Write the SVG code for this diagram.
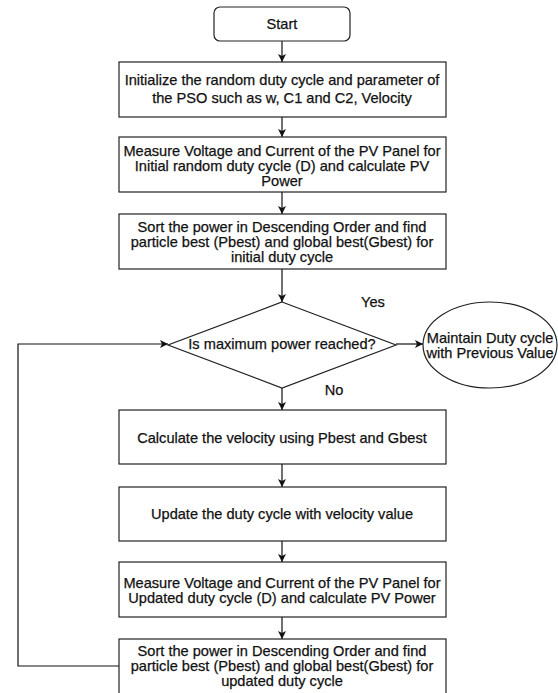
<svg xmlns="http://www.w3.org/2000/svg" width="558" height="693" viewBox="0 0 558 693">
<defs>
<style>
.box{fill:#fff;stroke:#222;stroke-width:1.2}
.t{font-family:"Liberation Sans",Arial,sans-serif;font-size:14.6px;fill:#111;text-anchor:middle;dominant-baseline:central;stroke:#111;stroke-width:0.25}
.c{fill:none;stroke:#111;stroke-width:1.2}
</style>
<marker id="ah" viewBox="0 0 10 10" refX="10" refY="5" markerWidth="8" markerHeight="8" markerUnits="userSpaceOnUse" orient="auto">
<path d="M0,0 L10,5 L0,10 L2.5,5 z" fill="#111"/>
</marker>
</defs>
<rect width="558" height="693" fill="#fff"/>
<g id="connectors">
<path class="c" d="M282,41 V62" marker-end="url(#ah)"/>
<path class="c" d="M282,117 V137" marker-end="url(#ah)"/>
<path class="c" d="M282,192 V214" marker-end="url(#ah)"/>
<path class="c" d="M282,269 V302" marker-end="url(#ah)"/>
<path class="c" d="M396,344 H423" marker-end="url(#ah)"/>
<path class="c" d="M282,388 V410" marker-end="url(#ah)"/>
<path class="c" d="M282,464 V487" marker-end="url(#ah)"/>
<path class="c" d="M282,541 V562" marker-end="url(#ah)"/>
<path class="c" d="M282,617 V639" marker-end="url(#ah)"/>
<path class="c" d="M119,666 H18 V344 H168" marker-end="url(#ah)"/>
<text class="t" x="373" y="302">Yes</text>
<text class="t" x="334" y="390">No</text>
</g>
<g id="start">
<rect class="box" x="214" y="7" width="136" height="34" rx="6"/>
<text class="t" x="282" y="24">Start</text>
</g>
<g id="init">
<rect class="box" x="119" y="62" width="327" height="55"/>
<text class="t" x="282" y="80">Initialize the random duty cycle and parameter of</text>
<text class="t" x="282" y="98">the PSO such as w, C1 and C2, Velocity</text>
</g>
<g id="measure1">
<rect class="box" x="119" y="137" width="327" height="55"/>
<text class="t" x="282" y="151">Measure Voltage and Current of the PV Panel for</text>
<text class="t" x="282" y="166">Initial random duty cycle (D) and calculate PV</text>
<text class="t" x="282" y="181">Power</text>
</g>
<g id="sort1">
<rect class="box" x="119" y="214" width="327" height="55"/>
<text class="t" x="282" y="227">Sort the power in Descending Order and find</text>
<text class="t" x="282" y="242">particle best (Pbest) and global best(Gbest) for</text>
<text class="t" x="282" y="257">initial duty cycle</text>
</g>
<g id="decision">
<polygon class="box" points="282,302 396,345 282,388 168,345"/>
<text class="t" x="282" y="344">Is maximum power reached?</text>
</g>
<g id="maintain">
<ellipse class="box" cx="490" cy="345" rx="67" ry="43"/>
<text class="t" x="490" y="338">Maintain Duty cycle</text>
<text class="t" x="490" y="353">with Previous Value</text>
</g>
<g id="velocity">
<rect class="box" x="119" y="410" width="327" height="54"/>
<text class="t" x="282" y="438">Calculate the velocity using Pbest and Gbest</text>
</g>
<g id="update">
<rect class="box" x="119" y="487" width="327" height="54"/>
<text class="t" x="282" y="514">Update the duty cycle with velocity value</text>
</g>
<g id="measure2">
<rect class="box" x="119" y="562" width="327" height="55"/>
<text class="t" x="282" y="583">Measure Voltage and Current of the PV Panel for</text>
<text class="t" x="282" y="598">Updated duty cycle (D) and calculate PV Power</text>
</g>
<g id="sort2">
<rect class="box" x="119" y="639" width="327" height="55"/>
<text class="t" x="282" y="651">Sort the power in Descending Order and find</text>
<text class="t" x="282" y="666">particle best (Pbest) and global best(Gbest) for</text>
<text class="t" x="282" y="681">updated duty cycle</text>
</g>
</svg>
